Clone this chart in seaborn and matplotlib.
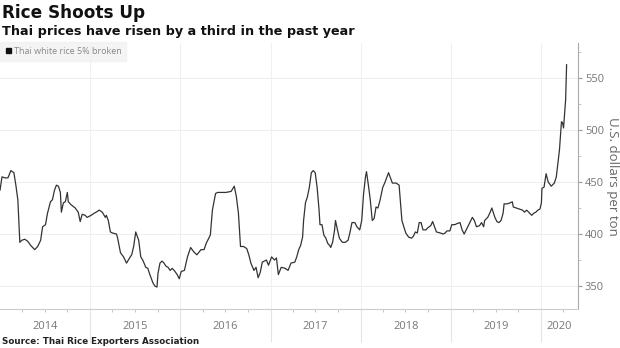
import numpy as np
import pandas as pd
import matplotlib
matplotlib.use("Agg")
import matplotlib.pyplot as plt
import matplotlib.dates as mdates
from matplotlib.lines import Line2D
import seaborn as sns

# ---------------- data ----------------
# time inside each year as a fraction of that year, and price in US$/ton
frac_2014 = [0.000, 0.022, 0.055, 0.088, 0.121, 0.154, 0.176, 0.198, 0.220, 0.242, 0.275, 0.308,
             0.341, 0.385, 0.418, 0.451, 0.473, 0.505, 0.527, 0.560, 0.582, 0.604, 0.626, 0.648,
             0.670, 0.681, 0.703, 0.725, 0.747, 0.758, 0.791, 0.835, 0.868, 0.890, 0.912, 0.945, 0.967]
usd_2014 = [442, 455, 454, 454, 461, 459, 447, 433, 392, 394, 395, 393,
            389, 385, 388, 394, 407, 409, 420, 431, 433, 442, 447, 446,
            440, 421, 430, 431, 440, 431, 428, 425, 421, 412, 419, 418, 416]

frac_2015 = [0.011, 0.045, 0.067, 0.101, 0.135, 0.169, 0.180, 0.202, 0.225, 0.247, 0.292, 0.303,
             0.337, 0.371, 0.404, 0.438, 0.461, 0.483, 0.506, 0.539, 0.562, 0.584, 0.618, 0.640,
             0.663, 0.697, 0.719, 0.742, 0.753, 0.775, 0.798, 0.820, 0.843, 0.865, 0.888, 0.910,
             0.933, 0.966, 0.989]
usd_2015 = [418, 420, 421, 423, 421, 416, 418, 413, 402, 401, 400, 397,
            382, 378, 372, 377, 380, 388, 402, 394, 378, 375, 368, 367,
            361, 353, 350, 349, 362, 372, 374, 372, 369, 368, 365, 367,
            365, 361, 357]

frac_2016 = [0.011, 0.046, 0.080, 0.115, 0.149, 0.184, 0.230, 0.264, 0.287, 0.333, 0.356, 0.391,
             0.414, 0.460, 0.506, 0.563, 0.598, 0.621, 0.644, 0.667, 0.701, 0.736, 0.759, 0.782,
             0.816, 0.839, 0.862, 0.885, 0.908, 0.954, 0.977]
usd_2016 = [364, 365, 378, 387, 383, 380, 385, 385, 391, 399, 423, 439,
            440, 440, 440, 441, 446, 436, 420, 388, 388, 386, 380, 372,
            365, 368, 358, 363, 373, 375, 370]

frac_2017 = [0.011, 0.043, 0.065, 0.086, 0.118, 0.161, 0.194, 0.226, 0.269, 0.290, 0.312, 0.333,
             0.355, 0.366, 0.387, 0.409, 0.430, 0.452, 0.473, 0.495, 0.516, 0.538, 0.548, 0.570,
             0.591, 0.613, 0.634, 0.656, 0.667, 0.688, 0.710, 0.720, 0.742, 0.763, 0.796, 0.828,
             0.860, 0.882, 0.903, 0.935, 0.957, 0.989]
usd_2017 = [378, 375, 377, 361, 368, 367, 365, 372, 373, 378, 385, 389,
            397, 413, 430, 436, 445, 459, 461, 459, 445, 423, 409, 409,
            399, 396, 391, 389, 387, 392, 404, 413, 404, 396, 392, 392,
            394, 402, 411, 411, 407, 404]

frac_2018 = [0.011, 0.032, 0.053, 0.064, 0.085, 0.106, 0.128, 0.149, 0.170, 0.191, 0.213, 0.245,
             0.266, 0.287, 0.309, 0.330, 0.351, 0.394, 0.426, 0.436, 0.457, 0.479, 0.500, 0.532,
             0.564, 0.585, 0.606, 0.628, 0.649, 0.670, 0.691, 0.723, 0.745, 0.777, 0.798, 0.819,
             0.840, 0.883, 0.915, 0.936, 0.957, 0.989]
usd_2018 = [413, 439, 455, 460, 447, 433, 413, 415, 426, 425, 432, 445,
            449, 454, 459, 454, 449, 449, 447, 436, 413, 407, 401, 397,
            396, 398, 402, 401, 411, 411, 404, 404, 406, 408, 412, 407,
            402, 401, 400, 401, 403, 403]

frac_2019 = [0.011, 0.045, 0.068, 0.102, 0.125, 0.148, 0.182, 0.205, 0.239, 0.261, 0.284, 0.318,
             0.341, 0.364, 0.375, 0.409, 0.432, 0.455, 0.489, 0.511, 0.534, 0.557, 0.580, 0.591,
             0.625, 0.659, 0.682, 0.693, 0.727, 0.761, 0.795, 0.818, 0.841, 0.875, 0.898, 0.920,
             0.943, 0.966, 0.989]
usd_2019 = [409, 409, 410, 411, 404, 400, 406, 410, 416, 413, 407, 408,
            411, 407, 413, 416, 420, 425, 416, 412, 411, 413, 420, 429,
            429, 430, 431, 426, 425, 424, 423, 421, 423, 420, 418, 420,
            421, 423, 424]

frac_2020 = [0.005, 0.011, 0.034, 0.057, 0.080, 0.114, 0.148, 0.170, 0.205, 0.227, 0.239, 0.250,
             0.273, 0.284]
usd_2020 = [430, 444, 445, 458, 450, 446, 449, 455, 481, 508, 507, 502,
            529, 563]

years = [2014, 2015, 2016, 2017, 2018, 2019, 2020]
year_labels = ["2014", "2015", "2016", "2017", "2018", "2019", "2020"]
y_ticks = [350, 400, 450, 500, 550]
series_name = "Thai white rice 5% broken"
title = "Rice Shoots Up"
subtitle = "Thai prices have risen by a third in the past year"
y_title = "U.S. dollars per ton"
source = "Source: Thai Rice Exporters Association"

fracs = [frac_2014, frac_2015, frac_2016, frac_2017, frac_2018, frac_2019, frac_2020]
usds = [usd_2014, usd_2015, usd_2016, usd_2017, usd_2018, usd_2019, usd_2020]


def year_frac_to_date(year, f):
    start = pd.Timestamp(year=year, month=1, day=1)
    end = pd.Timestamp(year=year + 1, month=1, day=1)
    return start + (end - start) * f


dates, prices = [], []
for yr, fl, ul in zip(years, fracs, usds):
    for f, u in zip(fl, ul):
        dates.append(year_frac_to_date(yr, f))
        prices.append(u)
df = pd.DataFrame({"date": dates, "price": prices})

# ---------------- style ----------------
sns.set_theme(style="white")
plt.rcParams["font.family"] = ["Open Sans", "DejaVu Sans"]

W, H = 620, 348
fig = plt.figure(figsize=(W / 100, H / 100), dpi=100)
fig.patch.set_facecolor("white")
ax_left, ax_right_px, ax_top_px, ax_bot_px = 0, 578, 43, 309
ax = fig.add_axes([ax_left / W, 1 - ax_bot_px / H, (ax_right_px - ax_left) / W,
                   (ax_bot_px - ax_top_px) / H])
ax.set_facecolor("white")

sns.lineplot(data=df, x="date", y="price", ax=ax, color="#333333", linewidth=0.9,
             legend=False)

x0 = pd.Timestamp("2014-01-01")
x1 = year_frac_to_date(2020, 0.41)
ax.set_xlim(x0, x1)
ax.set_ylim(327.9, 583.7)

# y axis on the right
ax.yaxis.tick_right()
ax.yaxis.set_label_position("right")
ax.set_yticks(y_ticks)
ax.set_yticklabels([str(v) for v in y_ticks])
ax.set_yticks([v + 25 for v in [325] + y_ticks], minor=True)
ax.tick_params(axis="y", which="major", direction="out", length=3, width=0.8,
               color="#999999", labelsize=8, labelcolor="#777777", pad=2, right=True, left=False)
ax.tick_params(axis="y", which="minor", direction="out", length=2, width=0.6,
               color="#bbbbbb", right=True, left=False)
ax.set_ylabel(y_title, rotation=270, fontsize=9.5, color="#666666", labelpad=11)

# x axis: year separators (major ticks), quarterly minor ticks
sep = [pd.Timestamp(year=y, month=1, day=1) for y in years[1:]]
ax.set_xticks(sep)
ax.set_xticklabels([""] * len(sep))
quarters = [pd.Timestamp(year=y, month=m, day=1) for y in years for m in (4, 7, 10)]
quarters = [q for q in quarters if q < x1]
ax.set_xticks(quarters, minor=True)
ax.tick_params(axis="x", which="major", direction="out", length=24, width=0.8,
               color="#e4e4e4", bottom=True)
ax.tick_params(axis="x", which="minor", direction="out", length=2.2, width=0.6,
               color="#bbbbbb", bottom=True)

# year labels centred in the visible part of each year
for yr, lab in zip(years, year_labels):
    a = max(pd.Timestamp(year=yr, month=1, day=1), x0)
    b = min(pd.Timestamp(year=yr + 1, month=1, day=1), x1)
    mid = a + (b - a) / 2
    ax.text(mdates.date2num(mid), -0.066, lab, transform=ax.get_xaxis_transform(),
            ha="center", va="center", fontsize=8, color="#777777")

# grid
ax.grid(False)
for v in y_ticks:
    ax.axhline(v, color="#eeeeee", linewidth=0.8, zorder=0)
for s in sep:
    ax.axvline(s, color="#f0f0f0", linewidth=0.8, zorder=0)

for side in ("top", "left"):
    ax.spines[side].set_visible(False)
ax.spines["right"].set_color("#aaaaaa")
ax.spines["right"].set_linewidth(0.8)
ax.spines["bottom"].set_color("#cccccc")
ax.spines["bottom"].set_linewidth(0.8)
ax.set_xlabel("")

# legend
handle = Line2D([], [], marker="s", color="#111111", linestyle="none", markersize=3.6)
leg = ax.legend([handle], [series_name], loc="upper left", bbox_to_anchor=(0.0, 1.005),
                frameon=True, fontsize=6.5, handlelength=0.6, handletextpad=0.35,
                borderpad=0.55, borderaxespad=0, labelcolor="#888888")
leg.get_frame().set_facecolor("#f2f2f2")
leg.get_frame().set_edgecolor("#f2f2f2")
leg.get_frame().set_boxstyle("square", pad=0)

# titles and source
fig.text(0.004, 1 - 18.5 / H, title, fontsize=12.2, fontweight="bold",
         family=["DejaVu Sans"], color="#111111", va="baseline", ha="left")
fig.text(0.004, 1 - 34.5 / H, subtitle, fontsize=9.2, fontweight="bold",
         family=["DejaVu Sans"], color="#111111", va="baseline", ha="left")
fig.text(0.004, 1 - 342 / H, source, fontsize=6.3, fontweight="bold",
         family=["DejaVu Sans"], color="#222222", va="center", ha="left")

fig.savefig("out.png", dpi=100, facecolor="white")
